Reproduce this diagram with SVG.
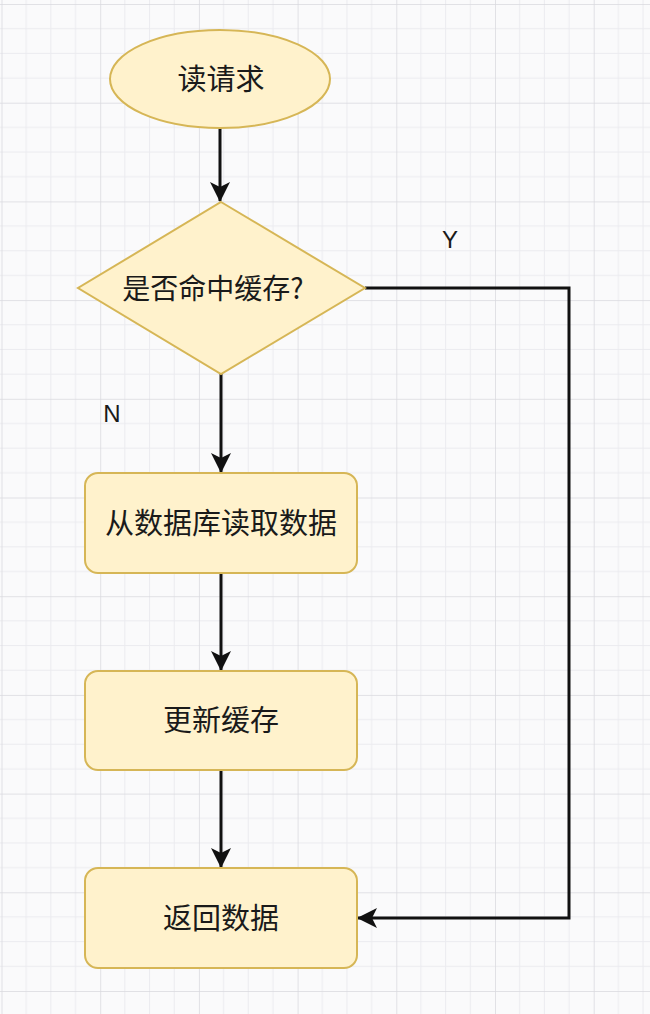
<svg xmlns="http://www.w3.org/2000/svg" width="650" height="1014" viewBox="0 0 650 1014">
<style>
.node{fill:#fff2cc;stroke:#d6b656;stroke-width:2}
.lbl{font-family:"Noto Sans CJK SC","Noto Sans",sans-serif;font-size:29px;fill:#1a1a1a;text-anchor:middle}
.yn{font-family:"Liberation Sans","Noto Sans",sans-serif;font-size:24px;fill:#1a1a1a;text-anchor:middle}
.edge{fill:none;stroke:#111;stroke-width:3}
</style>
<defs>
<pattern id="grid" x="1.5" y="4" width="98.7" height="98.7" patternUnits="userSpaceOnUse">
<path d="M24.675 0V98.7M49.35 0V98.7M74.025 0V98.7M0 24.675H98.7M0 49.35H98.7M0 74.025H98.7" stroke="#ebebef" stroke-width="1" fill="none"/>
<path d="M0 0V98.7M0 0H98.7" stroke="#d9d9de" stroke-width="1.5" fill="none"/>
</pattern>
<marker id="arr" viewBox="0 0 20 20" refX="19" refY="10" markerWidth="20" markerHeight="20" markerUnits="userSpaceOnUse" orient="auto">
<path d="M0 0L20 10L0 20L5 10Z" fill="#111"/>
</marker>
</defs>
<rect width="650" height="1014" fill="#fafafb"/>
<rect width="650" height="1014" fill="url(#grid)"/>
<g id="connectors">
<path class="edge" d="M220 128V201" marker-end="url(#arr)"/>
<path class="edge" d="M221 374V472" marker-end="url(#arr)"/>
<path class="edge" d="M221 573V670" marker-end="url(#arr)"/>
<path class="edge" d="M221 770V867" marker-end="url(#arr)"/>
<path class="edge" d="M365 288H569V918H358" marker-end="url(#arr)"/>
</g>
<g id="n-start">
<ellipse class="node" cx="220" cy="79" rx="110" ry="49"/>
<text class="lbl" x="221" y="90">读请求</text>
</g>
<g id="n-decision">
<path class="node" d="M221 202L365 288L221 374L78 288Z"/>
<text class="lbl" x="213" y="299" style="font-size:28px">是否命中缓存?</text>
</g>
<g id="n-read">
<rect class="node" x="85" y="473" width="272" height="100" rx="13"/>
<text class="lbl" x="221" y="534">从数据库读取数据</text>
</g>
<g id="n-update">
<rect class="node" x="85" y="671" width="272" height="99" rx="13"/>
<text class="lbl" x="221" y="731">更新缓存</text>
</g>
<g id="n-return">
<rect class="node" x="85" y="868" width="272" height="100" rx="13"/>
<text class="lbl" x="221" y="929">返回数据</text>
</g>
<g id="labels">
<text class="yn" x="450" y="248">Y</text>
<text class="yn" x="112" y="422">N</text>
</g>
</svg>
